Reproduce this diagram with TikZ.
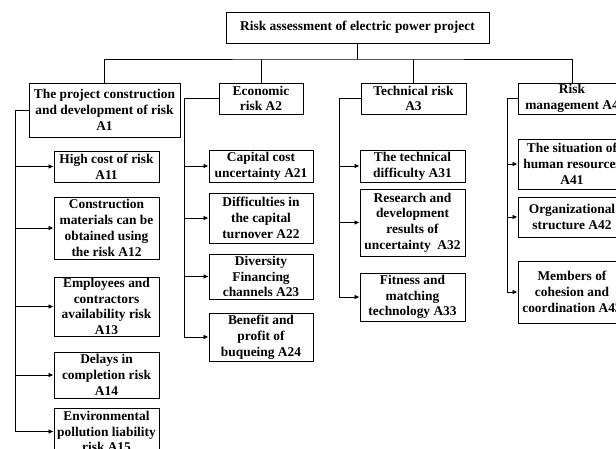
\documentclass[tikz,border=0pt]{standalone}
\usepackage{fontspec}
\setmainfont{Liberation Serif}
\usetikzlibrary{arrows.meta}
\begin{document}
\begin{tikzpicture}[x=1pt,y=-1pt,
  box/.style={draw, line width=0.9pt, inner sep=0pt, align=center,
    font=\fontsize{13.4}{15.8}\selectfont\bfseries},
  link/.style={line width=0.8pt},
  arr/.style={line width=0.8pt, -{Latex[length=5pt,width=4.5pt]}}]
\clip (0,0) rectangle (616,449);
\fill[white] (0,0) rectangle (616,449);
% root and level 1
\node[box, minimum width=263pt, minimum height=31pt] (R) at (357.5,27.5) {Risk assessment of electric power project};
\node[box, minimum width=151pt, minimum height=54pt] (A1) at (104.5,110) {The project construction\\and development of risk\\A1};
\node[box, minimum width=84pt, minimum height=31pt] (A2) at (261,98.5) {Economic\\risk A2};
\node[box, minimum width=105pt, minimum height=31pt] (A3) at (413.5,98.5) {Technical risk\\A3};
\node[box, minimum width=108pt, minimum height=31pt] (A4) at (572,98.5) {Risk\\management A4};
% A1 children
\node[box, minimum width=105pt, minimum height=31pt] (A11) at (106.5,166.5) {High cost of risk\\A11};
\node[box, minimum width=105pt, minimum height=62pt] (A12) at (106.5,228) {Construction\\materials can be\\obtained using\\the risk A12};
\node[box, minimum width=105pt, minimum height=59pt] (A13) at (106.5,306.5) {Employees and\\contractors\\availability risk\\A13};
\node[box, minimum width=105pt, minimum height=46pt] (A14) at (106.5,375) {Delays in\\completion risk\\A14};
\node[box, minimum width=105pt, minimum height=46pt] (A15) at (106.5,431.5) {Environmental\\pollution liability\\risk A15};
% A2 children
\node[box, minimum width=104pt, minimum height=32pt] (A21) at (261,166) {Capital cost\\uncertainty A21};
\node[box, minimum width=104pt, minimum height=50pt] (A22) at (261,218) {Difficulties in\\the capital\\turnover A22};
\node[box, minimum width=104pt, minimum height=45pt] (A23) at (261,276.5) {Diversity\\Financing\\channels A23};
\node[box, minimum width=104pt, minimum height=48pt] (A24) at (261,337) {Benefit and\\profit of\\buqueing A24};
% A3 children
\node[box, minimum width=105pt, minimum height=32pt] (A31) at (412.5,166) {The technical\\difficulty A31};
\node[box, minimum width=105pt, minimum height=67pt] (A32) at (412.5,222.5) {Research and\\development\\results of\\uncertainty\ \ A32};
\node[box, minimum width=105pt, minimum height=48pt] (A33) at (412.5,297) {Fitness and\\matching\\technology A33};
% A4 children
\node[box, minimum width=108pt, minimum height=50pt] (A41) at (572,164) {The situation of\\human resources\\A41};
\node[box, minimum width=108pt, minimum height=40pt] (A42) at (572,217) {Organizational\\structure A42};
\node[box, minimum width=108pt, minimum height=62pt] (A43) at (572,292) {Members of\\cohesion and\\coordination A43};
% top tree
\coordinate (bar) at (357.5,59);
\draw[link] (R.south) -- (bar);
\draw[link] (A1.north) |- (bar) -| (A4.north);
\draw[link] (A2.north) -- (A2.north |- bar);
\draw[link] (A3.north) -- (A3.north |- bar);
% spines
\coordinate (s1) at (15,110);
\coordinate (s2) at (184,98.5);
\coordinate (s3) at (339,98.5);
\coordinate (s4) at (507,98.5);
\draw[arr] (A1.west) -- (s1) |- (A15.west);
\foreach \c in {A11,A12,A13,A14} \draw[arr] (s1 |- \c.west) -- (\c.west);
\draw[arr] (A2.west) -- (s2) |- (A24.west);
\foreach \c in {A21,A22,A23} \draw[arr] (s2 |- \c.west) -- (\c.west);
\draw[arr] (A3.west) -- (s3) |- (A33.west);
\foreach \c in {A31,A32} \draw[arr] (s3 |- \c.west) -- (\c.west);
\draw[arr] (A4.west) -- (s4) |- (A43.west);
\foreach \c in {A41,A42} \draw[arr] (s4 |- \c.west) -- (\c.west);
\end{tikzpicture}
\end{document}
